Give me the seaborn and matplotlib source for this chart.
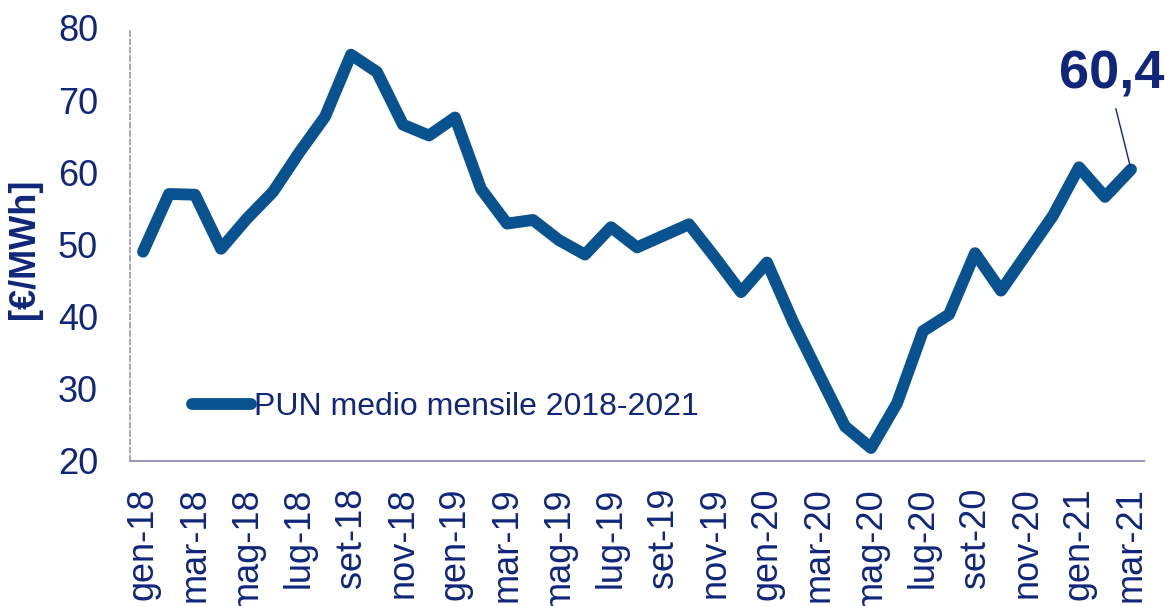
import matplotlib
matplotlib.use("Agg")
import matplotlib.pyplot as plt
import seaborn as sns
import pandas as pd
import numpy as np

months = ["gen", "feb", "mar", "apr", "mag", "giu", "lug", "ago", "set", "ott", "nov", "dic"]
years = ["18", "19", "20", "21"]
labels = [f"{m}-{y}" for y in years for m in months][:39]

pun = [49.0, 57.0, 56.9, 49.4, 53.6, 57.3, 62.7, 67.7, 76.3, 73.9, 66.6, 65.1,
       67.6, 57.7, 52.9, 53.4, 50.6, 48.6, 52.4, 49.6, 51.2, 52.8, 48.2, 43.4,
       47.5, 39.3, 32.0, 24.8, 21.8, 28.0, 38.0, 40.3, 48.8, 43.6, 48.8, 54.0,
       60.7, 56.6, 60.4]
series_name = "PUN medio mensile 2018-2021"
last_label = "60,4"

df = pd.DataFrame({"idx": np.arange(len(pun)), "val": pun, "serie": series_name})

sns.set_style("white")
plt.rcParams['font.family'] = ['Liberation Sans', 'DejaVu Sans']

LINE = "#08528f"
NAVY = "#10267a"
AX = "#9a9ab8"

fig = plt.figure(figsize=(11.67, 6.06), dpi=100)
ax = fig.add_axes([0.1114, 0.2393, 0.9803 - 0.1114, 0.9538 - 0.2393])

sns.lineplot(data=df, x="idx", y="val", hue="serie", palette=[LINE], ax=ax,
             linewidth=8.5, solid_capstyle="round", solid_joinstyle="round")

ax.set_xlim(-0.5, len(pun) - 0.5)
ax.set_ylim(20, 80)
ax.set_yticks([20, 30, 40, 50, 60, 70, 80])

ax.set_xticks(np.arange(0, len(pun), 2))
ax.set_xticklabels(labels[::2], rotation=90)
ax.set_xticks(np.arange(-0.5, len(pun) - 1, 2), minor=True)
ax.tick_params(axis="x", which="major", length=0, pad=19, labelsize=26, labelcolor=NAVY)
ax.tick_params(axis="x", which="minor", length=9, width=1.2, color=AX, direction="out")
ax.tick_params(axis="y", which="major", length=8, width=1.2, color=AX, pad=15,
               labelsize=26, labelcolor=NAVY, direction="out")
for t in ax.yaxis.get_ticklines():
    t.set_linestyle((0, (2, 2)))

for s in ["top", "right"]:
    ax.spines[s].set_visible(False)
ax.spines["bottom"].set_color(AX)
ax.spines["bottom"].set_linewidth(1.5)
ax.spines["left"].set_color(AX)
ax.spines["left"].set_linewidth(1.2)
ax.spines["left"].set_linestyle((0, (3, 2)))

ax.set_xlabel("")
ax.set_ylabel("[€/MWh]", fontsize=26, fontweight="bold", color=NAVY)
ax.yaxis.set_label_coords(-0.087, 0.49)

leg = ax.legend(loc="center left", bbox_to_anchor=(0.061, 0.125), frameon=False,
                fontsize=23, handlelength=1.85, handletextpad=0.1,
                borderaxespad=0, borderpad=0)
for t in leg.get_texts():
    t.set_color(NAVY)

ax.annotate(last_label, xy=(len(pun) - 1, pun[-1]), xytext=(-14, 68),
            textcoords="offset points", ha="center", va="center",
            fontsize=39, fontweight="bold", color=NAVY,
            arrowprops=dict(arrowstyle="-", color=NAVY, lw=1, shrinkA=4, shrinkB=2,
                            relpos=(0.52, 0)))

fig.savefig("out.png", dpi=100)
